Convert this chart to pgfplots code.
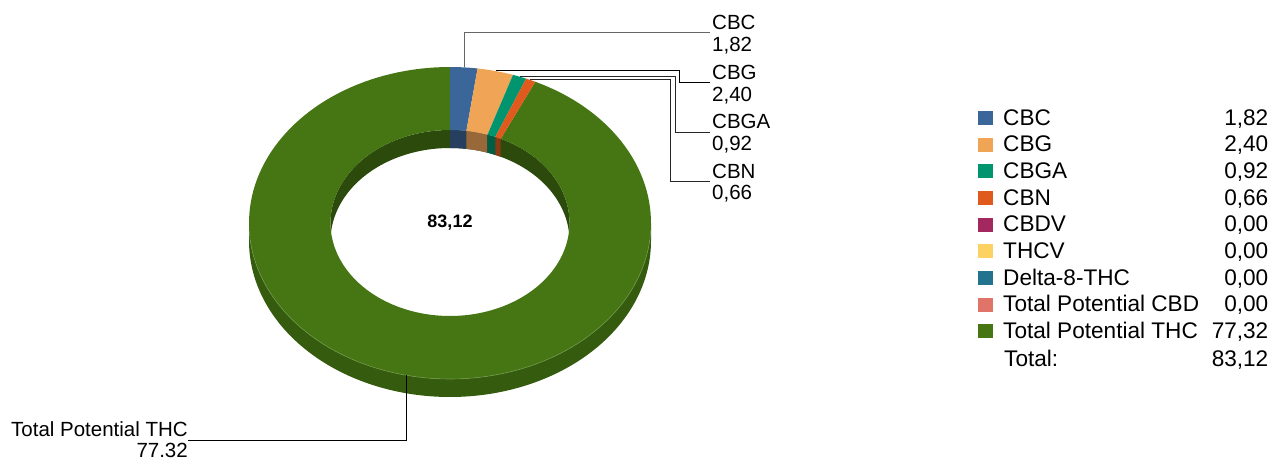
\documentclass[border=0pt]{standalone}
\usepackage{pgfplots}
\pgfplotsset{compat=1.18}
\usepackage{pgfplotstable}
\usepgfplotslibrary{fillbetween}
\usepackage{fontspec}
\setmainfont{Liberation Sans}

\definecolor{cCBC}{HTML}{3A6699}
\definecolor{cCBG}{HTML}{F0A556}
\definecolor{cCBGA}{HTML}{00946F}
\definecolor{cCBN}{HTML}{E05A1E}
\definecolor{cCBDV}{HTML}{A2285F}
\definecolor{cTHCV}{HTML}{FDD162}
\definecolor{cD8}{HTML}{24738E}
\definecolor{cCBD}{HTML}{E07468}
\definecolor{cTHC}{HTML}{467614}
\definecolor{wCBC}{HTML}{263F5E}
\definecolor{wCBG}{HTML}{98683A}
\definecolor{wCBGA}{HTML}{005E46}
\definecolor{wCBN}{HTML}{8C3A14}
\definecolor{wTHC}{HTML}{2B4A0B}
\definecolor{sTHC}{HTML}{355B0E}
\definecolor{rimTHC}{HTML}{6E9645}

\pgfplotstableread{
name value
CBC 1.82
CBG 2.40
CBGA 0.92
CBN 0.66
CBDV 0.00
THCV 0.00
D8THC 0.00
TPCBD 0.00
TPTHC 77.32
}\cannab

\newcommand\getv[2]{\pgfplotstablegetelem{#1}{value}\of\cannab\global\let#2\pgfplotsretval}
\getv{0}\vA \getv{1}\vB \getv{2}\vC \getv{3}\vD \getv{4}\vE
\getv{5}\vF \getv{6}\vG \getv{7}\vH \getv{8}\vI
\pgfmathsetmacro\tot{\vA+\vB+\vC+\vD+\vE+\vF+\vG+\vH+\vI}
\pgfmathsetmacro\aA{90-\vA/\tot*360}
\pgfmathsetmacro\aB{\aA-\vB/\tot*360}
\pgfmathsetmacro\aC{\aB-\vC/\tot*360}
\pgfmathsetmacro\aD{\aC-\vD/\tot*360}
\pgfmathsetmacro\aI{\aD-(\vE+\vF+\vG+\vH+\vI)/\tot*360}

% band: #1 id, #2:#3 domain, path a: rx #4 ry #5 dy #6 ; path b: rx #7 ry #8 dy #9
\newcommand\band[9]{%
 \addplot[draw=none, name path=#1a, domain=#2:#3, samples=160] ({450+#4*cos(x)},{223+#6-#5*sin(x)});
 \addplot[draw=none, name path=#1b, domain=#2:#3, samples=160] ({450+#7*cos(x)},{223+#9-#8*sin(x)});
}
\newcommand\lab[1]{\fontsize{20.5}{24}\selectfont #1}
\newcommand\leg[1]{\fontsize{22.6}{26}\selectfont #1}

\begin{document}
\begin{tikzpicture}
\begin{axis}[
  scale only axis, width=1272pt, height=459pt,
  xmin=0, xmax=1272, ymin=0, ymax=459, y dir=reverse,
  hide axis, clip=false,
]
% outer side wall (front half)
\band{side}{-180}{0}{201}{156}{0}{201}{156}{18}
\addplot[fill=sTHC, draw=none] fill between[of=sidea and sideb];
% inner wall (back half)
\band{iw}{0}{180}{119.5}{93}{0}{119.5}{93}{18}
\addplot[fill=wTHC, draw=none] fill between[of=iwa and iwb];
\band{iwA}{\aA}{90}{119.5}{93}{0}{119.5}{93}{18}
\addplot[fill=wCBC, draw=none] fill between[of=iwAa and iwAb];
\band{iwB}{\aB}{\aA}{119.5}{93}{0}{119.5}{93}{18}
\addplot[fill=wCBG, draw=none] fill between[of=iwBa and iwBb];
\band{iwC}{\aC}{\aB}{119.5}{93}{0}{119.5}{93}{18}
\addplot[fill=wCBGA, draw=none] fill between[of=iwCa and iwCb];
\band{iwD}{\aD}{\aC}{119.5}{93}{0}{119.5}{93}{18}
\addplot[fill=wCBN, draw=none] fill between[of=iwDa and iwDb];
% top faces
\band{tI}{\aI}{\aD}{201}{156}{0}{119.5}{93}{0}
\addplot[fill=cTHC, draw=none] fill between[of=tIa and tIb];
\band{tA}{\aA}{90}{201}{156}{0}{119.5}{93}{0}
\addplot[fill=cCBC, draw=none] fill between[of=tAa and tAb];
\band{tB}{\aB}{\aA}{201}{156}{0}{119.5}{93}{0}
\addplot[fill=cCBG, draw=none] fill between[of=tBa and tBb];
\band{tC}{\aC}{\aB}{201}{156}{0}{119.5}{93}{0}
\addplot[fill=cCBGA, draw=none] fill between[of=tCa and tCb];
\band{tD}{\aD}{\aC}{201}{156}{0}{119.5}{93}{0}
\addplot[fill=cCBN, draw=none] fill between[of=tDa and tDb];
% rim highlight
\addplot[draw=rimTHC, line width=0.6pt, domain=-175:-5, samples=120] ({450+201*cos(x)},{223-156*sin(x)});

% centre total
\node[font=\fontsize{18}{22}\selectfont\bfseries] at (axis cs:450,223) {83,12};

% leader lines
\draw[gray!80!black, line width=1pt] (axis cs:464,67) |- (axis cs:710,32.5);
\draw[black, line width=1pt] (axis cs:496,70.5) -| (axis cs:679,82.3) -- (axis cs:710,82.3);
\draw[black!85, line width=1pt] (axis cs:520,76.5) -| (axis cs:675,132.3) -- (axis cs:710,132.3);
\draw[black!85, line width=1pt] (axis cs:530,79.5) -| (axis cs:670.7,181.7) -- (axis cs:710,181.7);
\draw[black, line width=1pt] (axis cs:406.7,375) |- (axis cs:188,440);

% data labels
\node[anchor=base west, inner sep=0pt] at (axis cs:712,30) {\lab{CBC}};
\node[anchor=base west, inner sep=0pt] at (axis cs:712,52) {\lab{1,82}};
\node[anchor=base west, inner sep=0pt] at (axis cs:712,79.5) {\lab{CBG}};
\node[anchor=base west, inner sep=0pt] at (axis cs:712,101) {\lab{2,40}};
\node[anchor=base west, inner sep=0pt] at (axis cs:712,128.5) {\lab{CBGA}};
\node[anchor=base west, inner sep=0pt] at (axis cs:712,150.5) {\lab{0,92}};
\node[anchor=base west, inner sep=0pt] at (axis cs:712,178.5) {\lab{CBN}};
\node[anchor=base west, inner sep=0pt] at (axis cs:712,199.5) {\lab{0,66}};
\node[anchor=base east, inner sep=0pt] at (axis cs:188,436) {\lab{Total Potential THC}};
\node[anchor=base east, inner sep=0pt] at (axis cs:188,457) {\lab{77.32}};

% legend
\fill[cCBC]  (axis cs:978,111) rectangle (axis cs:992.5,125);
\fill[cCBG]  (axis cs:978,137.7) rectangle (axis cs:992.5,151.7);
\fill[cCBGA] (axis cs:978,164.3) rectangle (axis cs:992.5,178.3);
\fill[cCBN]  (axis cs:978,191) rectangle (axis cs:992.5,205);
\fill[cCBDV] (axis cs:978,217.7) rectangle (axis cs:992.5,231.7);
\fill[cTHCV] (axis cs:978,244.3) rectangle (axis cs:992.5,258.3);
\fill[cD8]   (axis cs:978,271) rectangle (axis cs:992.5,285);
\fill[cCBD]  (axis cs:978,297.7) rectangle (axis cs:992.5,311.7);
\fill[cTHC]  (axis cs:978,324.3) rectangle (axis cs:992.5,338.3);

\node[anchor=base west, inner sep=0pt] at (axis cs:1003,125) {\leg{CBC}};
\node[anchor=base west, inner sep=0pt] at (axis cs:1003,151.7) {\leg{CBG}};
\node[anchor=base west, inner sep=0pt] at (axis cs:1003,178.3) {\leg{CBGA}};
\node[anchor=base west, inner sep=0pt] at (axis cs:1003,205) {\leg{CBN}};
\node[anchor=base west, inner sep=0pt] at (axis cs:1003,231.7) {\leg{CBDV}};
\node[anchor=base west, inner sep=0pt] at (axis cs:1003,258.3) {\leg{THCV}};
\node[anchor=base west, inner sep=0pt] at (axis cs:1003,285) {\leg{Delta-8-THC}};
\node[anchor=base west, inner sep=0pt] at (axis cs:1003,311.7) {\leg{Total Potential CBD}};
\node[anchor=base west, inner sep=0pt] at (axis cs:1003,338.3) {\leg{Total Potential THC}};
\node[anchor=base west, inner sep=0pt] at (axis cs:1004,366.5) {\leg{Total:}};

\node[anchor=base east, inner sep=0pt] at (axis cs:1268.5,125) {\leg{1,82}};
\node[anchor=base east, inner sep=0pt] at (axis cs:1268.5,151.7) {\leg{2,40}};
\node[anchor=base east, inner sep=0pt] at (axis cs:1268.5,178.3) {\leg{0,92}};
\node[anchor=base east, inner sep=0pt] at (axis cs:1268.5,205) {\leg{0,66}};
\node[anchor=base east, inner sep=0pt] at (axis cs:1268.5,231.7) {\leg{0,00}};
\node[anchor=base east, inner sep=0pt] at (axis cs:1268.5,258.3) {\leg{0,00}};
\node[anchor=base east, inner sep=0pt] at (axis cs:1268.5,285) {\leg{0,00}};
\node[anchor=base east, inner sep=0pt] at (axis cs:1268.5,311.7) {\leg{0,00}};
\node[anchor=base east, inner sep=0pt] at (axis cs:1268.5,338.3) {\leg{77,32}};
\node[anchor=base east, inner sep=0pt] at (axis cs:1268.5,366.5) {\leg{83,12}};
\end{axis}
\pgfresetboundingbox
\path (current axis.south west) rectangle (current axis.north east);
\end{tikzpicture}
\end{document}
